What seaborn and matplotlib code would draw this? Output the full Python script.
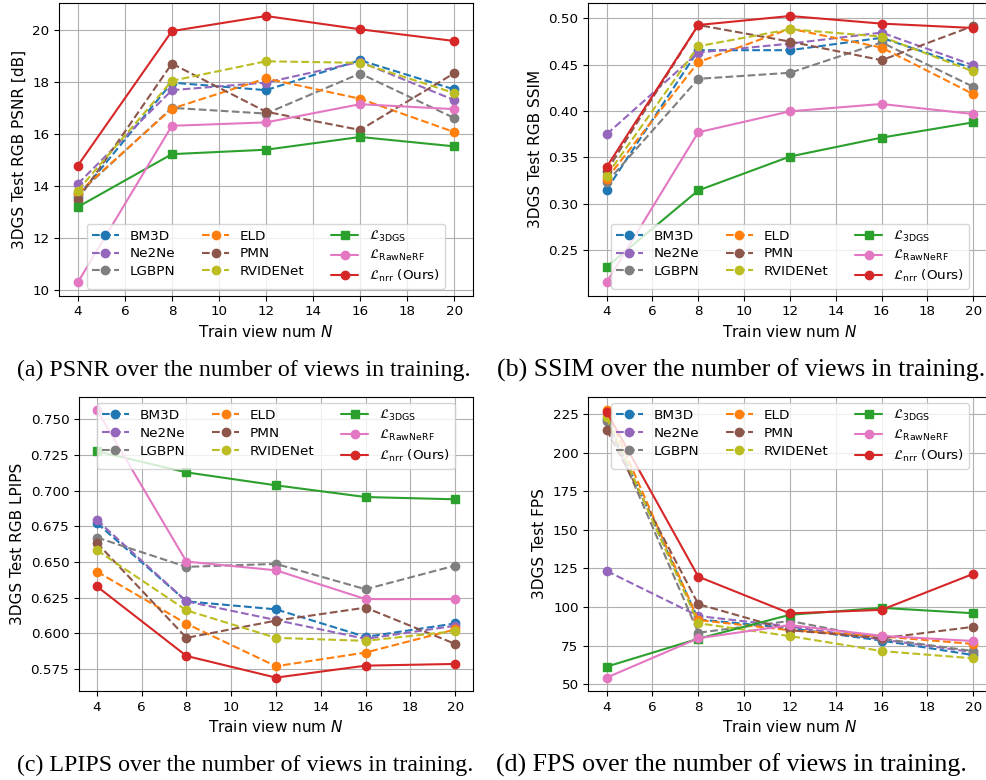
import numpy as np
import pandas as pd
import matplotlib
matplotlib.use("Agg")
import matplotlib.pyplot as plt
import seaborn as sns

views = [4, 8, 12, 16, 20]
methods = ["BM3D", "Ne2Ne", "LGBPN", "ELD", "PMN", "RVIDENet", "L3DGS", "LRawNeRF", "Lnrr"]
labels = ["BM3D", "Ne2Ne", "LGBPN", "ELD", "PMN", "RVIDENet",
          r"$\mathcal{L}_{\mathrm{3DGS}}$", r"$\mathcal{L}_{\mathrm{RawNeRF}}$",
          r"$\mathcal{L}_{\mathrm{nrr}}$ (Ours)"]
colors = ["tab:blue", "tab:purple", "tab:gray", "tab:orange", "tab:brown", "tab:olive",
          "tab:green", "tab:pink", "tab:red"]

# PSNR
psnr_bm3d = [13.60, 17.99, 17.70, 18.85, 17.73]
psnr_ne2ne = [14.10, 17.70, 17.99, 18.79, 17.32]
psnr_lgbpn = [13.70, 17.02, 16.80, 18.34, 16.63]
psnr_eld = [13.74, 16.99, 18.15, 17.37, 16.09]
psnr_pmn = [13.49, 18.72, 16.87, 16.17, 18.35]
psnr_rvidenet = [13.84, 18.06, 18.81, 18.75, 17.59]
psnr_l3dgs = [13.21, 15.24, 15.41, 15.90, 15.54]
psnr_lrawnerf = [10.31, 16.33, 16.46, 17.16, 16.97]
psnr_lnrr = [14.80, 19.97, 20.55, 20.04, 19.59]

# SSIM
ssim_bm3d = [0.315, 0.4656, 0.4656, 0.479, 0.4458]
ssim_ne2ne = [0.3748, 0.4631, 0.4727, 0.4846, 0.4494]
ssim_lgbpn = [0.3228, 0.4347, 0.4412, 0.474, 0.4261]
ssim_eld = [0.3267, 0.4527, 0.4889, 0.4684, 0.4182]
ssim_pmn = [0.335, 0.4928, 0.4749, 0.4548, 0.4918]
ssim_rvidenet = [0.3303, 0.4699, 0.4882, 0.4803, 0.4426]
ssim_l3dgs = [0.2317, 0.3142, 0.3508, 0.3712, 0.3877]
ssim_lrawnerf = [0.2149, 0.3770, 0.3996, 0.4075, 0.3967]
ssim_lnrr = [0.3395, 0.4928, 0.5025, 0.4943, 0.4896]

# LPIPS
lpips_bm3d = [0.6773, 0.6224, 0.6168, 0.5975, 0.6069]
lpips_ne2ne = [0.6794, 0.6224, 0.6093, 0.5961, 0.6053]
lpips_lgbpn = [0.6672, 0.6466, 0.6487, 0.6309, 0.6475]
lpips_eld = [0.6433, 0.6067, 0.5769, 0.5865, 0.6027]
lpips_pmn = [0.6634, 0.5968, 0.6089, 0.6180, 0.5926]
lpips_rvidenet = [0.6583, 0.6161, 0.5968, 0.5947, 0.6015]
lpips_l3dgs = [0.7277, 0.7129, 0.7038, 0.6956, 0.6940]
lpips_lrawnerf = [0.7566, 0.6503, 0.6442, 0.6240, 0.6240]
lpips_lnrr = [0.6329, 0.5841, 0.5689, 0.5773, 0.5785]

# FPS
fps_bm3d = [221.8, 92.0, 86.3, 78.3, 68.9]
fps_ne2ne = [123.4, 94.2, 87.4, 79.0, 70.8]
fps_lgbpn = [220.7, 83.4, 91.0, 79.5, 71.5]
fps_eld = [227.6, 91.6, 85.0, 81.0, 76.1]
fps_pmn = [214.9, 101.9, 85.0, 79.8, 87.2]
fps_rvidenet = [222.8, 89.5, 81.2, 71.5, 66.8]
fps_l3dgs = [61.4, 79.5, 95.0, 99.5, 96.0]
fps_lrawnerf = [54.3, 79.8, 88.3, 81.4, 78.0]
fps_lnrr = [226.5, 119.7, 95.9, 98.2, 121.5]

panels = [
    ("3DGS Test RGB PSNR [dB]", [psnr_bm3d, psnr_ne2ne, psnr_lgbpn, psnr_eld, psnr_pmn,
                                  psnr_rvidenet, psnr_l3dgs, psnr_lrawnerf, psnr_lnrr], "lower center"),
    ("3DGS Test RGB SSIM", [ssim_bm3d, ssim_ne2ne, ssim_lgbpn, ssim_eld, ssim_pmn,
                             ssim_rvidenet, ssim_l3dgs, ssim_lrawnerf, ssim_lnrr], "lower center"),
    ("3DGS Test RGB LPIPS", [lpips_bm3d, lpips_ne2ne, lpips_lgbpn, lpips_eld, lpips_pmn,
                              lpips_rvidenet, lpips_l3dgs, lpips_lrawnerf, lpips_lnrr], "upper center"),
    ("3DGS Test FPS", [fps_bm3d, fps_ne2ne, fps_lgbpn, fps_eld, fps_pmn,
                        fps_rvidenet, fps_l3dgs, fps_lrawnerf, fps_lnrr], "upper center"),
]
captions = ["(a) PSNR over the number of views in training.",
            "(b) SSIM over the number of views in training.",
            "(c) LPIPS over the number of views in training.",
            "(d) FPS over the number of views in training."]

sns.set_style("ticks", {"axes.grid": True, "grid.color": "#b0b0b0",
                        "axes.edgecolor": "black", "text.color": "black",
                        "axes.labelcolor": "black", "xtick.color": "black",
                        "ytick.color": "black"})
plt.rcParams["font.family"] = ["DejaVu Sans"]
plt.rcParams["grid.linewidth"] = 0.8

W, H = 986, 780
fig = plt.figure(figsize=(W / 100, H / 100), dpi=100)

# axes boxes in pixels: left, top, right, bottom
boxes = [(59, 2.7, 473, 295.7), (588.3, 2.7, 991.6, 295.7),
         (79, 396.7, 473, 691), (588.3, 396.7, 991.6, 691)]
cap_pos = [(17, 370, 17.2), (497, 370, 18.6), (17, 765, 17.2), (496, 765, 18.6)]

for (ylabel, series, loc), box, cap, cp in zip(panels, boxes, captions, cap_pos):
    l, t, r, b = box
    ax = fig.add_axes([l / W, 1 - b / H, (r - l) / W, (b - t) / H])
    for m, lab, col, vals in zip(methods, labels, colors, series):
        solid = m.startswith("L") and m != "LGBPN"
        sns.lineplot(x=np.array(views), y=np.array(vals), ax=ax, color=col,
                     marker="s" if m == "L3DGS" else "o",
                     linestyle="-" if solid else "--",
                     markeredgecolor=col, markeredgewidth=1.0, markersize=6,
                     linewidth=1.5, label=lab, legend=False)
    ax.set_xticks([4, 6, 8, 10, 12, 14, 16, 18, 20])
    ax.set_xlabel(r"Train view num $N$", fontsize=11)
    ax.set_ylabel(ylabel, fontsize=11)
    ax.tick_params(labelsize=9.7)
    ax.grid(True)
    ax.legend(loc=loc, ncol=3, fontsize=9.7, labelspacing=0.35, borderpad=0.35)
    fig.text(cp[0] / W, 1 - cp[1] / H, cap, ha="left", va="center",
             fontsize=cp[2], family="Liberation Serif")

fig.savefig("out.png", dpi=100)
